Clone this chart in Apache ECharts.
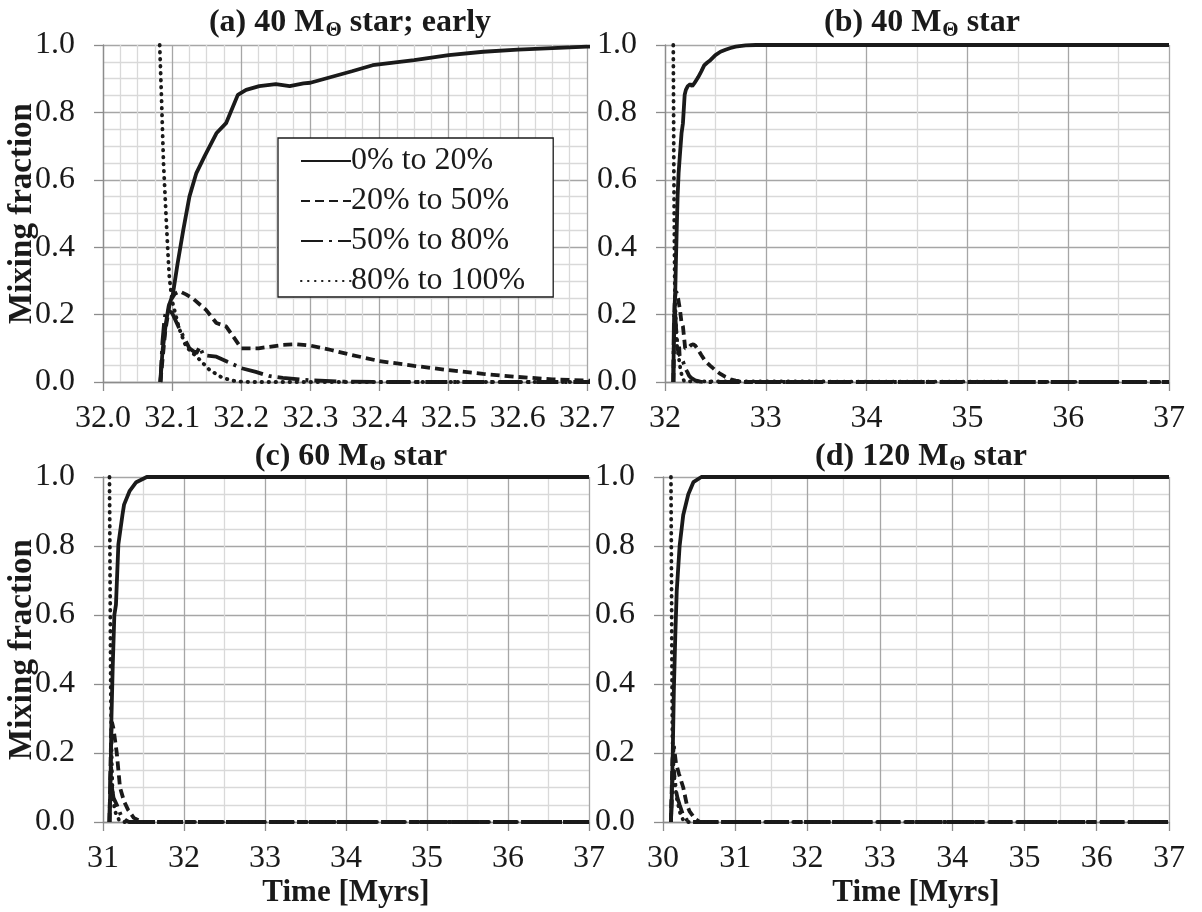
<!DOCTYPE html>
<html>
<head>
<meta charset="utf-8">
<title>Mixing fraction vs time</title>
<script src="https://cdn.jsdelivr.net/npm/echarts@6/dist/echarts.min.js"></script>
<style>
  html, body { margin: 0; padding: 0; background: #fff; }
  #chart { width: 1202px; height: 912px; }
</style>
</head>
<body>
<div id="chart"></div>
<script>
// Mass-fraction bands of the star (one line per band)
const bandNames = ['0% to 20%', '20% to 50%', '50% to 80%', '80% to 100%'];

// Panel titles (the star's mass, with a subscripted solar symbol)
const panelTitles = [
  ['(a) 40 M', 'Θ', ' star; early'],
  ['(b) 40 M', 'Θ', ' star'],
  ['(c) 60 M', 'Θ', ' star'],
  ['(d) 120 M', 'Θ', ' star']
];

// Time ranges [Myrs] of each panel's x-axis
const xRangeA = [32.0, 32.7];
const xRangeB = [32, 37];
const xRangeC = [31, 37];
const xRangeD = [30, 37];

// 40 Msun star: [time (Myrs), mixing fraction]
const m40Band0 = [[32.083,0],[32.086,0.09],[32.091,0.175],[32.095,0.225],[32.101,0.26],[32.108,0.353],[32.116,0.45],[32.125,0.55],[32.135,0.62],[32.147,0.67],[32.164,0.738],[32.178,0.768],[32.195,0.852],[32.207,0.867],[32.226,0.878],[32.25,0.884],[32.27,0.878],[32.29,0.886],[32.30,0.888],[32.33,0.905],[32.36,0.922],[32.39,0.94],[32.42,0.948],[32.45,0.955],[32.5,0.97],[32.55,0.98],[32.6,0.986],[32.65,0.991],[32.7,0.995],[32.8,0.999],[32.9,1],[37,1]];
const m40Band1 = [[32.083,0],[32.09,0.15],[32.097,0.24],[32.104,0.262],[32.111,0.269],[32.12,0.26],[32.13,0.248],[32.14,0.23],[32.149,0.214],[32.164,0.175],[32.178,0.165],[32.19,0.13],[32.2,0.1],[32.225,0.1],[32.26,0.11],[32.28,0.112],[32.3,0.108],[32.33,0.095],[32.36,0.08],[32.4,0.062],[32.45,0.048],[32.5,0.035],[32.55,0.024],[32.6,0.015],[32.65,0.008],[32.7,0.004],[32.8,0],[37,0]];
const m40Band2 = [[32.083,0],[32.086,0.12],[32.089,0.19],[32.092,0.215],[32.1,0.205],[32.11,0.16],[32.125,0.1],[32.135,0.085],[32.14,0.105],[32.145,0.08],[32.164,0.075],[32.18,0.06],[32.202,0.04],[32.221,0.03],[32.24,0.018],[32.26,0.012],[32.3,0.005],[32.35,0.001],[32.4,0],[37,0]];
const m40Band3 = [[32.082,1],[32.0845,0.85],[32.0875,0.65],[32.0915,0.48],[32.094,0.38],[32.096,0.31],[32.1,0.24],[32.11,0.16],[32.12,0.105],[32.14,0.066],[32.154,0.036],[32.173,0.012],[32.192,0.002],[32.21,0],[37,0]];

// 60 Msun star
const m60Band0 = [[31.08,0],[31.095,0.15],[31.104,0.3],[31.12,0.45],[31.14,0.6],[31.16,0.63],[31.19,0.805],[31.24,0.89],[31.26,0.92],[31.33,0.96],[31.41,0.985],[31.54,1],[37,1]];
const m60Band1 = [[31.08,0],[31.1,0.25],[31.11,0.29],[31.13,0.27],[31.17,0.2],[31.21,0.1],[31.26,0.06],[31.31,0.035],[31.38,0.012],[31.45,0.004],[31.5,0],[37,0]];
const m60Band2 = [[31.08,0],[31.09,0.12],[31.1,0.16],[31.11,0.1],[31.13,0.07],[31.17,0.05],[31.22,0.02],[31.28,0.005],[31.32,0],[37,0]];
const m60Band3 = [[31.08,1],[31.085,0.8],[31.09,0.6],[31.095,0.4],[31.1,0.3],[31.11,0.15],[31.12,0.07],[31.15,0.03],[31.2,0.005],[31.25,0],[37,0]];

// 120 Msun star
const m120Band0 = [[30.11,0],[30.125,0.1],[30.135,0.2],[30.15,0.38],[30.17,0.54],[30.19,0.67],[30.23,0.8],[30.28,0.89],[30.35,0.95],[30.42,0.985],[30.53,1],[37,1]];
const m120Band1 = [[30.11,0],[30.13,0.18],[30.15,0.22],[30.18,0.17],[30.22,0.14],[30.28,0.1],[30.33,0.05],[30.37,0.03],[30.44,0.01],[30.51,0],[37,0]];
const m120Band2 = [[30.11,0],[30.13,0.12],[30.15,0.15],[30.18,0.09],[30.2,0.07],[30.23,0.05],[30.27,0.025],[30.32,0.008],[30.36,0],[37,0]];
const m120Band3 = [[30.11,1],[30.115,0.8],[30.12,0.6],[30.125,0.4],[30.13,0.25],[30.14,0.18],[30.16,0.12],[30.19,0.07],[30.23,0.03],[30.28,0.005],[30.32,0],[37,0]];

const panelData = [
  [m40Band0, m40Band1, m40Band2, m40Band3],
  [m40Band0, m40Band1, m40Band2, m40Band3],
  [m60Band0, m60Band1, m60Band2, m60Band3],
  [m120Band0, m120Band1, m120Band2, m120Band3]
];

const SERIF = '"Liberation Serif", "Times New Roman", Times, serif';
const INK = '#1a1a1a';
const AXIS = '#8c8c8c';
const MAJOR = '#a6a6a6';
const MINOR = '#d9d9d9';

// Line styles for the four bands: solid, dashed, long dash-dot, dotted
const bandLine = [
  { color: INK, width: 3.8, type: 'solid' },
  { color: INK, width: 3.8, type: [9, 5], cap: 'butt' },
  { color: INK, width: 3.8, type: [22, 6, 3, 6], cap: 'butt' },
  { color: INK, width: 3.8, type: [0.5, 6.5], cap: 'round' }
];

const grids = [
  { left: 103, right: 615, top: 45, bottom: 530 },
  { left: 665, right: 33, top: 45, bottom: 530 },
  { left: 103, right: 613, top: 477, bottom: 90 },
  { left: 663, right: 33, top: 477, bottom: 90 }
];

const xRanges = [xRangeA, xRangeB, xRangeC, xRangeD];

function titleFor(i) {
  const g = grids[i];
  const cx = (g.left + (1202 - g.right)) / 2;
  const p = panelTitles[i];
  return {
    text: '{t|' + p[0] + '}{s|' + p[1] + '}{t|' + p[2] + '}',
    left: cx,
    top: i < 2 ? 0 : 434,
    textAlign: 'center',
    textStyle: {
      rich: {
        t: { fontFamily: SERIF, fontWeight: 'bold', fontSize: 32, color: INK },
        s: { fontFamily: SERIF, fontWeight: 'bold', fontSize: 21, color: INK, padding: [15, 0, 0, 1] }
      }
    }
  };
}

const xAxes = xRanges.map((r, i) => ({
  type: 'value',
  gridIndex: i,
  min: r[0],
  max: r[1],
  interval: i === 0 ? 0.1 : 1,
  name: i >= 2 ? 'Time [Myrs]' : '',
  nameLocation: 'middle',
  nameGap: 55,
  nameMoveOverlap: false,
  nameTextStyle: { fontFamily: SERIF, fontWeight: 'bold', fontSize: 31, color: INK },
  axisLine: { show: true, onZero: false, lineStyle: { color: AXIS, width: 1.3 } },
  axisTick: { show: true, inside: false, length: 9, lineStyle: { color: AXIS, width: 1.3 } },
  minorTick: { show: false, splitNumber: i === 0 ? 4 : 2 },
  splitLine: { show: true, lineStyle: { color: MAJOR, width: 1.3 } },
  minorSplitLine: { show: true, lineStyle: { color: MINOR, width: 1.3 } },
  axisLabel: {
    fontFamily: SERIF, fontWeight: 'normal', fontSize: 32, color: INK, margin: 21,
    formatter: v => i === 0 ? v.toFixed(1) : String(Math.round(v))
  }
}));

const yAxes = grids.map((g, i) => ({
  type: 'value',
  gridIndex: i,
  min: 0,
  max: 1,
  interval: 0.2,
  name: (i === 0 || i === 2) ? 'Mixing fraction' : '',
  nameLocation: 'middle',
  nameGap: 64,
  nameRotate: 90,
  nameMoveOverlap: false,
  nameTextStyle: { fontFamily: SERIF, fontWeight: 'bold', fontSize: 33, color: INK },
  axisLine: { show: true, lineStyle: { color: AXIS, width: 1.3 } },
  axisTick: { show: true, inside: false, length: 9, lineStyle: { color: AXIS, width: 1.3 } },
  minorTick: { show: false, splitNumber: 4 },
  splitLine: { show: true, lineStyle: { color: MAJOR, width: 1.3 } },
  minorSplitLine: { show: true, lineStyle: { color: MINOR, width: 1.3 } },
  axisLabel: {
    fontFamily: SERIF, fontWeight: 'normal', fontSize: 32, color: INK, margin: 28,
    formatter: v => v.toFixed(1)
  }
}));

const series = [];
panelData.forEach((bands, p) => {
  bands.forEach((pts, b) => {
    series.push({
      name: bandNames[b],
      type: 'line',
      xAxisIndex: p,
      yAxisIndex: p,
      data: pts,
      showSymbol: false,
      symbol: 'none',
      smooth: false,
      clip: true,
      animation: false,
      lineStyle: bandLine[b],
      itemStyle: { color: INK },
      z: 3 + b
    });
  });
});

const chart = echarts.init(document.getElementById('chart'), null, { renderer: 'canvas' });
chart.setOption({
  backgroundColor: '#ffffff',
  animation: false,
  textStyle: { fontFamily: SERIF },
  title: [0, 1, 2, 3].map(titleFor),
  grid: grids.map(g => Object.assign({ containLabel: false }, g)),
  xAxis: xAxes,
  yAxis: yAxes,
  legend: {
    data: bandNames,
    orient: 'vertical',
    left: 278,
    top: 138,
    padding: [7, 28, 0, 22],
    itemGap: 8,
    itemWidth: 50,
    itemHeight: 14,
    backgroundColor: '#ffffff',
    borderColor: INK,
    borderWidth: 1.3,
    borderRadius: 0,
    selectedMode: false,
    itemStyle: { opacity: 0 },
    textStyle: { fontFamily: SERIF, fontSize: 32, lineHeight: 30, color: INK, padding: [0, 0, 0, -5] }
  },
  series: series
});
</script>
</body>
</html>
